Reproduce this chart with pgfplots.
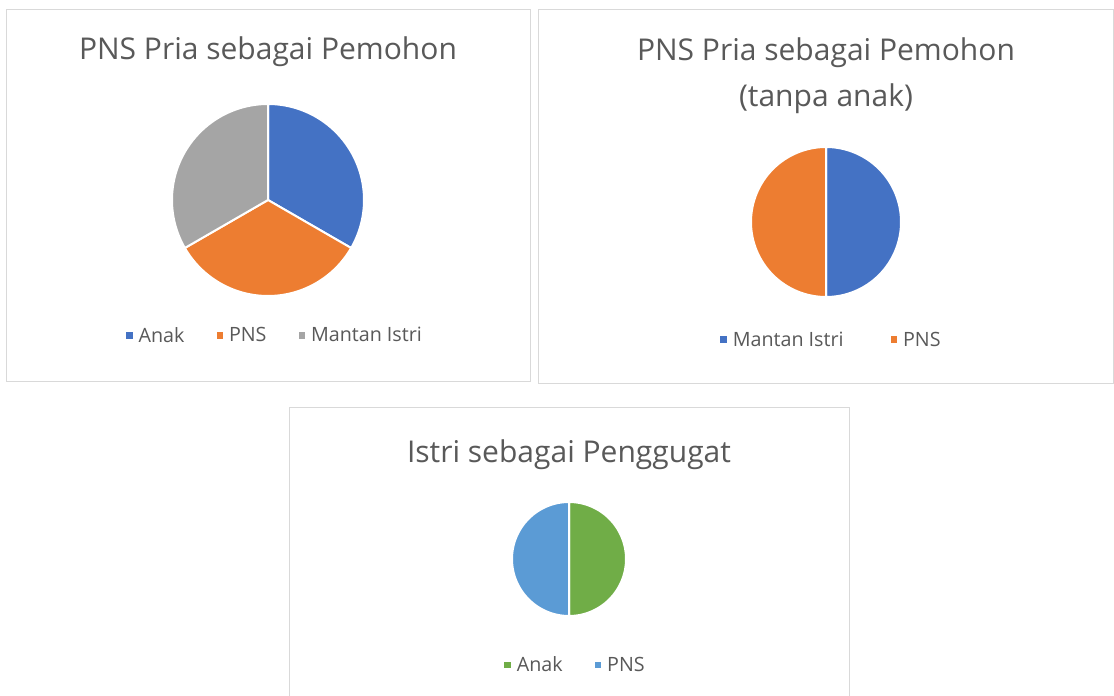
\documentclass[border=0pt]{standalone}
\usepackage{pgfplots}
\pgfplotsset{compat=1.18}
\usepgfplotslibrary{polar}
\usepackage{fontspec}
\setmainfont{Open Sans}
\definecolor{xblue}{HTML}{4472C4}
\definecolor{xorange}{HTML}{ED7D31}
\definecolor{xgray}{HTML}{A5A5A5}
\definecolor{xgreen}{HTML}{70AD47}
\definecolor{xlblue}{HTML}{5B9BD5}
\definecolor{txt}{HTML}{595959}
\definecolor{boxc}{HTML}{D9D9D9}

% ---- data (counts per category) ----
% Chart 1: PNS Pria sebagai Pemohon
\def\OneAnak{1}\def\OnePNS{1}\def\OneMantan{1}
% Chart 2: PNS Pria sebagai Pemohon (tanpa anak)
\def\TwoMantan{1}\def\TwoPNS{1}
% Chart 3: Istri sebagai Penggugat
\def\ThreeAnak{1}\def\ThreePNS{1}

\pgfplotsset{
  pie/.style={
    hide axis, scale only axis, clip=false,
    xmin=0, xmax=360, ymin=0, ymax=1,
    legend columns=-1,
    legend style={draw=none, fill=none, anchor=center,
      font=\fontsize{19.7}{23}\selectfont\color{txt},
      nodes={inner sep=1pt},
      /tikz/every odd column/.append style={column sep=5pt}},
    legend image code/.code={\fill[##1,draw=none] (0pt,-3.25pt) rectangle (6.5pt,3.25pt);},
  },
  legsep/.style={legend style={/tikz/every even column/.append style={column sep=#1}}},
}
\newcommand{\pieslice}[4]{%
  \addplot[fill=#1, draw=white, line width=2pt, line join=round,
           domain=#3:#2, samples=120] {1} -- (axis cs:0,0) -- cycle;
  \addlegendentry{#4}
}

\begin{document}
\begin{tikzpicture}
\path[use as bounding box, fill=white] (0pt,0pt) rectangle (1114pt,696pt);
% frames
\draw[boxc, line width=1pt] (6pt,314pt) rectangle (530pt,686pt);
\draw[boxc, line width=1pt] (538pt,312pt) rectangle (1113pt,686pt);
\draw[boxc, line width=1pt] (289pt,-2pt) -- (289pt,288pt) -- (849pt,288pt) -- (849pt,-2pt);

% titles
\node[anchor=base, text=txt, font=\fontsize{30}{36}\selectfont] at (268pt,636pt) {PNS Pria sebagai Pemohon};
\node[anchor=base, text=txt, font=\fontsize{30}{36}\selectfont] at (826pt,635pt) {PNS Pria sebagai Pemohon};
\node[anchor=base, text=txt, font=\fontsize{30}{36}\selectfont] at (826pt,589pt) {(tanpa anak)};
\node[anchor=base, text=txt, font=\fontsize{30}{36}\selectfont] at (569pt,233pt) {Istri sebagai Penggugat};

% chart 1
\pgfmathsetmacro\tot{\OneAnak+\OnePNS+\OneMantan}
\pgfmathsetmacro\aA{90}
\pgfmathsetmacro\aB{\aA-360*\OneAnak/\tot}
\pgfmathsetmacro\aC{\aB-360*\OnePNS/\tot}
\pgfmathsetmacro\aD{\aC-360*\OneMantan/\tot}
\begin{polaraxis}[pie, legsep=31pt, width=192pt, height=192pt, at={(268pt,496pt)}, anchor=center,
  legend style={at={(0.534,-0.205)}}]
\pieslice{xblue}{\aA}{\aB}{Anak}
\pieslice{xorange}{\aB}{\aC}{PNS}
\pieslice{xgray}{\aC}{\aD}{Mantan Istri}
\end{polaraxis}

% chart 2
\pgfmathsetmacro\totB{\TwoMantan+\TwoPNS}
\pgfmathsetmacro\bA{90}
\pgfmathsetmacro\bB{\bA-360*\TwoMantan/\totB}
\pgfmathsetmacro\bC{\bB-360*\TwoPNS/\totB}
\begin{polaraxis}[pie, legsep=46pt, width=150pt, height=150pt, at={(826pt,474pt)}, anchor=center,
  legend style={at={(0.533,-0.285)}}]
\pieslice{xblue}{\bA}{\bB}{Mantan Istri}
\pieslice{xorange}{\bB}{\bC}{PNS}
\end{polaraxis}

% chart 3
\pgfmathsetmacro\totC{\ThreeAnak+\ThreePNS}
\pgfmathsetmacro\cA{90}
\pgfmathsetmacro\cB{\cA-360*\ThreeAnak/\totC}
\pgfmathsetmacro\cC{\cB-360*\ThreePNS/\totC}
\begin{polaraxis}[pie, legsep=31pt, width=114pt, height=114pt, at={(569pt,137pt)}, anchor=center,
  legend style={at={(0.553,-0.43)}}]
\pieslice{xgreen}{\cA}{\cB}{Anak}
\pieslice{xlblue}{\cB}{\cC}{PNS}
\end{polaraxis}
\end{tikzpicture}
\end{document}
